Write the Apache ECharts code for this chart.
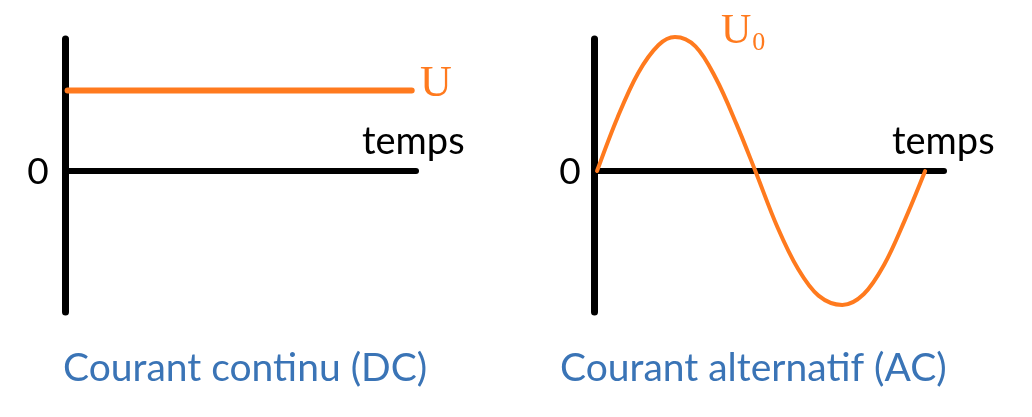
<!DOCTYPE html>
<html>
<head>
<meta charset="utf-8">
<script src="https://cdn.jsdelivr.net/npm/echarts@6/dist/echarts.min.js"></script>
<style>
html,body{margin:0;padding:0;background:#fff;}
#chart{width:1032px;height:417px;}
</style>
</head>
<body>
<div id="chart"></div>
<script>
// Data
var dcTimes = [0, 3.98];
var dcValues = [0.6, 0.6];
var acTimes = [0, 0.25, 0.5, 0.75, 0.95, 1.2, 1.45, 1.7, 1.93, 2.2, 2.45, 2.7, 2.99, 3.25, 3.5, 3.75, 4];
var acValues = [0, 0.4, 0.73, 0.94, 1, 0.93, 0.69, 0.35, 0, -0.42, -0.73, -0.93, -1, -0.92, -0.7, -0.37, 0];
var captions = ['Courant continu (DC)', 'Courant alternatif (AC)'];
var axisNameX = 'temps';
var zeroLabel = '0';
var dcLabel = 'U';
var acLabel = 'U';
var acSub = '0';

var ORANGE = '#FF7A1E';
var BLUE = '#3A74B6';
var SANS = 'Lato, "Open Sans", sans-serif';
var SERIF = '"Liberation Serif", "DejaVu Serif", serif';

function pairs(xs, ys){ return xs.map(function(x,i){ return [x, ys[i]]; }); }

var chart = echarts.init(document.getElementById('chart'), null, {renderer:'canvas'});

function xAx(idx, min, max){
  return {type:'value', gridIndex:idx, min:min, max:max,
    axisLine:{show:true, onZero:true, lineStyle:{color:'#000', width:6}},
    axisTick:{show:false}, axisLabel:{show:false}, splitLine:{show:false}};
}
function yAx(idx){
  return {type:'value', gridIndex:idx, min:-1.052, max:0.985,
    axisLine:{show:true, onZero:false, lineStyle:{color:'#000', width:7}},
    axisTick:{show:false}, axisLabel:{show:false}, splitLine:{show:false}};
}

chart.setOption({
  animation:false,
  grid:[
    {left:65, top:39, width:351, height:273},
    {left:594, top:39, width:350, height:273}
  ],
  xAxis:[xAx(0, -0.03, 4.03), xAx(1, -0.037, 4.23)],
  yAxis:[yAx(0), yAx(1)],
  series:[
    {type:'line', xAxisIndex:0, yAxisIndex:0, data:pairs(dcTimes, dcValues), symbol:'none', clip:false,
      lineStyle:{color:ORANGE, width:6, cap:'round'}},
    {type:'line', xAxisIndex:1, yAxisIndex:1, data:pairs(acTimes, acValues), symbol:'none', smooth:0.35, clip:false,
      lineStyle:{color:ORANGE, width:4, cap:'round'}}
  ],
  graphic:[
    {type:'text', x:38, y:172, style:{text:zeroLabel, font:'37px '+SANS, fill:'#000', align:'center', verticalAlign:'middle'}},
    {type:'text', x:570, y:172, style:{text:zeroLabel, font:'37px '+SANS, fill:'#000', align:'center', verticalAlign:'middle'}},
    {type:'text', x:362, y:142, style:{text:axisNameX, font:'38px '+SANS, fill:'#000', align:'left', verticalAlign:'middle'}},
    {type:'text', x:892, y:142, style:{text:axisNameX, font:'38px '+SANS, fill:'#000', align:'left', verticalAlign:'middle'}},
    {type:'text', x:420, y:84, style:{text:dcLabel, font:'44px '+SERIF, fill:ORANGE, align:'left', verticalAlign:'middle'}},
    {type:'text', x:721, y:32, style:{text:'{u|'+acLabel+'}{s|'+acSub+'}', fill:ORANGE, align:'left', verticalAlign:'middle',
      rich:{u:{font:'42px '+SERIF, fill:ORANGE}, s:{font:'26px '+SERIF, fill:ORANGE, padding:[22,0,0,1]}}}},
    {type:'text', x:63, y:368, style:{text:captions[0], font:'39px '+SANS, fill:BLUE, align:'left', verticalAlign:'middle'}},
    {type:'text', x:560, y:368, style:{text:captions[1], font:'39px '+SANS, fill:BLUE, align:'left', verticalAlign:'middle'}}
  ]
});
</script>
</body>
</html>
